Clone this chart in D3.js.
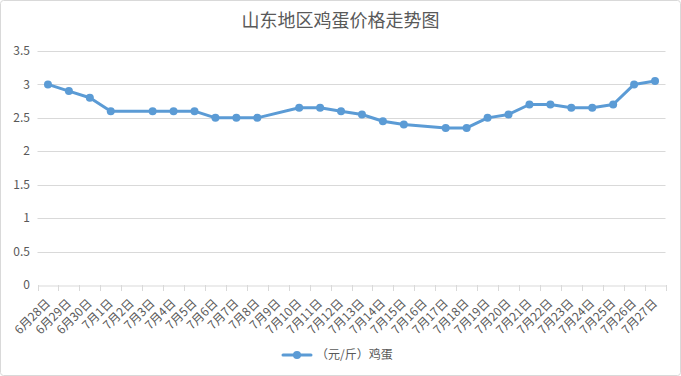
<!DOCTYPE html>
<html><head><meta charset="utf-8">
<script src="https://cdn.jsdelivr.net/npm/d3@7"></script>
<style>body{margin:0;background:#fff}svg{display:block}</style>
</head><body><svg id="c" width="681" height="376"></svg>
<script>
const categories = ["6月28日","6月29日","6月30日","7月1日","7月2日","7月3日","7月4日","7月5日","7月6日","7月7日","7月8日","7月9日","7月10日","7月11日","7月12日","7月13日","7月14日","7月15日","7月16日","7月17日","7月18日","7月19日","7月20日","7月21日","7月22日","7月23日","7月24日","7月25日","7月26日","7月27日"];
const eggPrices = [3.0,2.9,2.8,2.6,null,2.6,2.6,2.6,2.5,2.5,2.5,null,2.65,2.65,2.6,2.55,2.45,2.4,null,2.35,2.35,2.5,2.55,2.7,2.7,2.65,2.65,2.7,3.0,3.05];
const yTicks = [0,0.5,1,1.5,2,2.5,3,3.5];
const title = "山东地区鸡蛋价格走势图";
const seriesName = "（元/斤）鸡蛋";

const svg = d3.select("#c");
const font = "'Noto Sans CJK SC','Microsoft YaHei',sans-serif";
const txt = "#595959", grid = "#d9d9d9", blue = "#5B9BD5";

svg.append("rect").attr("x",0.5).attr("y",0.5).attr("width",680).attr("height",375)
  .attr("rx",3).attr("fill","#fff").attr("stroke","#d9d9d9");

const x = d3.scaleBand().domain(categories).range([37.5,665.5]);
const y = d3.scaleLinear().domain([0,3.5]).range([285,51]);

svg.append("text").attr("x",340.5).attr("y",27).attr("text-anchor","middle")
  .attr("font-family",font).attr("font-size",18).attr("fill",txt).text(title);

// grid
svg.append("g").selectAll("line").data(yTicks.filter(d=>d>0)).join("line")
  .attr("x1",37.5).attr("x2",665.5)
  .attr("y1",d=>Math.round(y(d))+0.5).attr("y2",d=>Math.round(y(d))+0.5)
  .attr("stroke",grid).attr("stroke-width",1);

// y labels
svg.append("g").selectAll("text").data(yTicks).join("text")
  .attr("x",30).attr("y",d=>y(d)).attr("dy","0.35em").attr("text-anchor","end")
  .attr("font-family",font).attr("font-size",12).attr("fill",txt).text(d=>d);

// x axis
const xAxis = d3.axisBottom(x).tickSize(0).tickSizeOuter(0).tickFormat("");
const gx = svg.append("g").attr("transform","translate(0,285.5)").call(xAxis);
gx.select(".domain").attr("stroke",grid);
const bounds = categories.map(c=>x(c)).concat([x(categories[categories.length-1])+x.bandwidth()]);
svg.append("g").selectAll("line").data(bounds).join("line")
  .attr("x1",d=>Math.round(d)+0.5).attr("x2",d=>Math.round(d)+0.5)
  .attr("y1",285).attr("y2",291).attr("stroke",grid);

svg.append("g").selectAll("text").data(categories).join("text")
  .attr("transform",d=>`translate(${x(d)+x.bandwidth()/2},301) rotate(-45)`)
  .attr("text-anchor","end").attr("dy","0.35em")
  .attr("font-family",font).attr("font-size",12).attr("fill",txt).text(d=>d);

// line
const pts = categories.map((c,i)=>({c,v:eggPrices[i]})).filter(d=>d.v!=null);
const line = d3.line().x(d=>x(d.c)+x.bandwidth()/2).y(d=>y(d.v));
svg.append("path").datum(pts).attr("d",line).attr("fill","none")
  .attr("stroke",blue).attr("stroke-width",3).attr("stroke-linejoin","round").attr("stroke-linecap","round");
svg.append("g").selectAll("circle").data(pts).join("circle")
  .attr("cx",d=>x(d.c)+x.bandwidth()/2).attr("cy",d=>y(d.v)).attr("r",4).attr("fill",blue);

// legend
const lg = svg.append("g");
lg.append("line").attr("x1",283).attr("x2",311).attr("y1",355).attr("y2",355)
  .attr("stroke",blue).attr("stroke-width",3).attr("stroke-linecap","round");
lg.append("circle").attr("cx",297).attr("cy",355).attr("r",4).attr("fill",blue);
lg.append("text").attr("x",316).attr("y",355).attr("dy","0.35em")
  .attr("font-family",font).attr("font-size",12).attr("fill",txt).text(seriesName);
</script></body></html>
